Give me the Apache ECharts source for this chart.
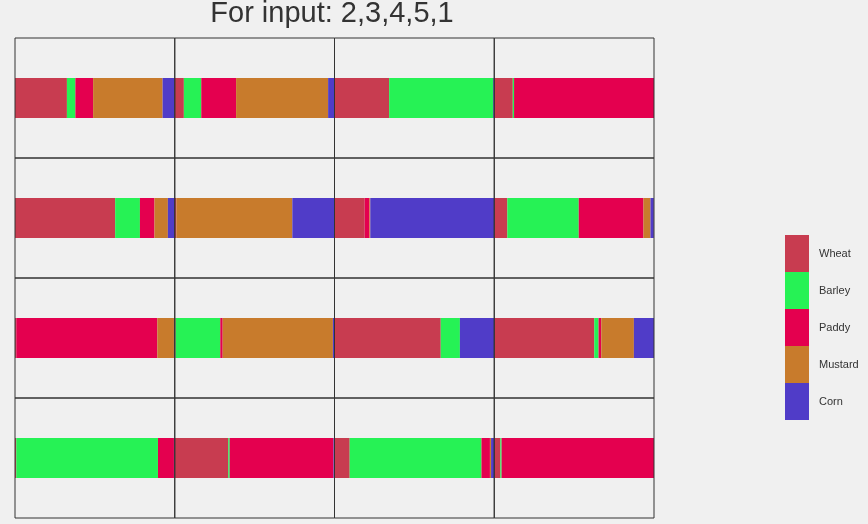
<!DOCTYPE html>
<html>
<head>
<meta charset="utf-8">
<script src="https://cdn.jsdelivr.net/npm/echarts@6/dist/echarts.min.js"></script>
<style>
html,body{margin:0;padding:0;background:#f0f0f0;}
#chart{width:868px;height:524px;}
</style>
</head>
<body>
<div id="chart"></div>
<script>
// Panels in row-major order (4 rows x 4 columns); values are percent shares
const seriesNames = ['Wheat', 'Barley', 'Paddy', 'Mustard', 'Corn'];
const wheat   = [32.5, 5.7, 34.2, 11.6, 62.7, 1.0, 18.9, 8.2, 0.8, 0.5, 66.5, 62.6, 0.8, 33.5, 9.5, 3.8];
const barley  = [5.3, 10.9, 65.2, 0.8, 15.5, 0, 0, 44.7, 0, 28.0, 12.0, 2.7, 88.7, 0.9, 82.5, 0.8];
const paddy   = [11.1, 21.8, 0, 87.6, 9.1, 0, 3.0, 40.5, 88.3, 1.5, 0, 1.7, 10.0, 65.0, 5.3, 95.4];
const mustard = [43.5, 57.6, 0, 0, 8.4, 72.6, 0.5, 4.4, 10.4, 69.0, 0, 20.4, 0, 0, 0.7, 0];
const corn    = [7.6, 4.0, 0.6, 0, 4.4, 26.4, 77.6, 2.1, 0.5, 1.0, 21.5, 12.6, 0.5, 0.6, 2.0, 0];
const seriesValues = [wheat, barley, paddy, mustard, corn];
const colors = ['#c83c50', '#26f255', '#e4004f', '#c87b2c', '#503cc8'];
const titleText = 'For input: 2,3,4,5,1';

const nRows = 4, nCols = 4;
const plotLeft = 15, plotTop = 38, cellW = 159.75, cellH = 120;

const grids = [], xAxes = [], yAxes = [], series = [];
for (let p = 0; p < nRows * nCols; p++) {
  const r = Math.floor(p / nCols), c = p % nCols;
  grids.push({
    left: plotLeft + c * cellW, top: plotTop + r * cellH,
    width: cellW, height: cellH,
    show: true, borderColor: '#333', borderWidth: 1,
    backgroundColor: 'transparent', z: 10
  });
  xAxes.push({ type: 'value', gridIndex: p, min: 0, max: 100, show: false });
  yAxes.push({ type: 'category', gridIndex: p, data: ['x'], show: false });
  seriesValues.forEach((vals, s) => {
    series.push({
      type: 'bar', name: seriesNames[s], xAxisIndex: p, yAxisIndex: p,
      stack: 'panel' + p, barWidth: 40, data: [vals[p]],
      itemStyle: { color: colors[s] }, animation: false, silent: true
    });
  });
}

const chart = echarts.init(document.getElementById('chart'));
chart.setOption({
  backgroundColor: '#f0f0f0',
  color: colors,
  animation: false,
  title: {
    text: titleText, left: 332, textAlign: 'center', top: -1, padding: 0,
    textStyle: { fontFamily: 'Liberation Sans', fontSize: 29, fontWeight: 'normal', color: '#333' }
  },
  legend: {
    data: seriesNames, orient: 'vertical', left: 785, top: 235, padding: 0,
    itemWidth: 24, itemHeight: 37, itemGap: 0, icon: 'rect',
    textStyle: { fontFamily: 'Liberation Sans', fontSize: 11, color: '#333', padding: [0, 0, 0, 5] }
  },
  grid: grids, xAxis: xAxes, yAxis: yAxes, series: series
});
</script>
</body>
</html>
